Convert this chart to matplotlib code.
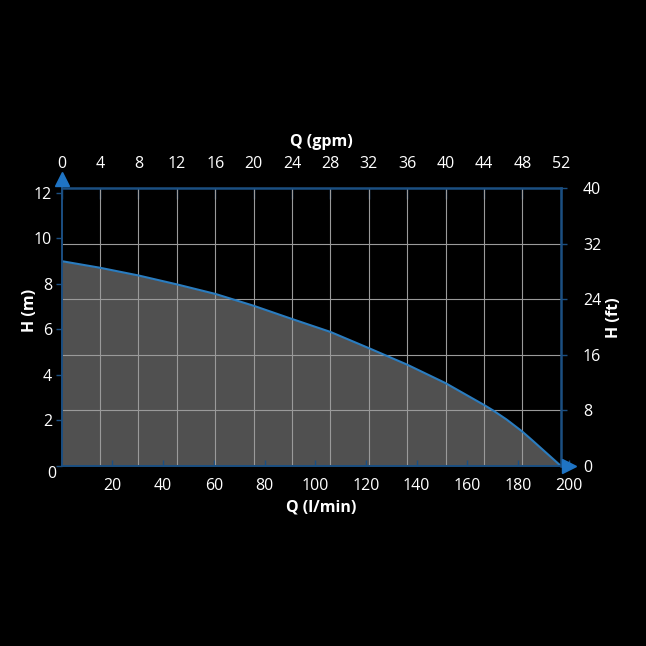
import matplotlib
matplotlib.use("Agg")
import matplotlib.pyplot as plt

plt.rcParams['font.family'] = ['Open Sans', 'DejaVu Sans']

# Data
flow_lpm = [0, 15.1, 30.3, 45.4, 60.6, 75.7, 90.8, 106.0, 121.1, 136.3,
            151.4, 166.6, 170.3, 175.5, 181.7, 186.0, 189.9, 192.6, 196.8]
head_m = [8.99, 8.70, 8.36, 7.97, 7.55, 7.03, 6.45, 5.88, 5.17, 4.44,
          3.63, 2.67, 2.42, 2.03, 1.50, 1.08, 0.69, 0.42, 0.0]

lpm_ticks = [20, 40, 60, 80, 100, 120, 140, 160, 180, 200]
gpm_ticks = [0, 4, 8, 12, 16, 20, 24, 28, 32, 36, 40, 44, 48, 52]
m_ticks = [0, 2, 4, 6, 8, 10, 12]
ft_ticks = [0, 8, 16, 24, 32, 40]

GPM = 3.78541
FT = 0.3048
xmax_frame = 52 * GPM
ymax_frame = 40 * FT

BLUE = '#1b4f82'
ARROW = '#1f74c4'
CURVE = '#2a7cbf'
GRID = '#9a9a9a'
FILL = '#505050'

W = H = 646
fig = plt.figure(figsize=(6.46, 6.46), dpi=100, facecolor='black')
L, R, B, T = 61.7, 568.7, 465.7, 188.3
ax = fig.add_axes([L / W, 1 - B / H, (R - L) / W, (B - T) / H])
ax.set_facecolor('black')
ax.set_xlim(0, 200)
ax.set_ylim(0, ymax_frame)
for s in ax.spines.values():
    s.set_visible(False)

ax.fill_between(flow_lpm, head_m, 0, color=FILL, lw=0, zorder=1)

for g in gpm_ticks[1:-1]:
    ax.plot([g * GPM, g * GPM], [0, ymax_frame], color=GRID, lw=0.8, zorder=2)
for f in ft_ticks[1:-1]:
    ax.plot([0, xmax_frame], [f * FT, f * FT], color=GRID, lw=0.8, zorder=2)

ax.plot(flow_lpm, head_m, color=CURVE, lw=1.5, zorder=4, solid_capstyle='round')

ax.plot([0, xmax_frame], [ymax_frame, ymax_frame], color=BLUE, lw=1.8, zorder=5, clip_on=False)
ax.plot([xmax_frame, xmax_frame], [0, ymax_frame], color=BLUE, lw=1.8, zorder=5, clip_on=False)
ax.plot([0, 200], [0, 0], color=BLUE, lw=1.4, zorder=5, clip_on=False)
ytop = 12.62
ax.plot([0, 0], [0, ytop], color=BLUE, lw=1.4, zorder=5, clip_on=False)
ax.plot([0], [ytop], marker='^', ms=10, color=ARROW, mec=ARROW, zorder=6, clip_on=False)
ax.plot([200], [0], marker='>', ms=10, color=ARROW, mec=ARROW, zorder=6, clip_on=False)

FS = 11.5
ax.set_xticks(lpm_ticks)
ax.set_xticklabels([str(v) for v in lpm_ticks])
ax.tick_params(axis='x', direction='in', length=4, width=1, color=BLUE,
               labelcolor='white', labelsize=FS, pad=9)
ax.set_yticks(m_ticks)
ax.set_yticklabels([''] + [str(v) for v in m_ticks[1:]])
ax.tick_params(axis='y', direction='out', length=4, width=1, color=BLUE,
               labelcolor='white', labelsize=FS, pad=3)

sx = ax.secondary_xaxis('top', functions=(lambda q: q / GPM, lambda g: g * GPM))
sx.set_xticks(gpm_ticks)
sx.set_xticklabels([str(v) for v in gpm_ticks])
sx.tick_params(axis='x', direction='in', length=8, width=1, color=BLUE,
               labelcolor='white', labelsize=FS, pad=12)
for s in sx.spines.values():
    s.set_visible(False)

sy = ax.secondary_yaxis(xmax_frame / 200, functions=(lambda m: m / FT, lambda f: f * FT))
sy.set_yticks(ft_ticks)
sy.set_yticklabels([str(v) for v in ft_ticks])
sy.tick_params(axis='y', direction='out', length=4, width=1, color=BLUE,
               labelcolor='white', labelsize=FS, pad=12)
for s in sy.spines.values():
    s.set_visible(False)

def px(x, y):
    return x / W, 1 - y / H

fig.text(*px(52.3, 474), '0', color='white', fontsize=FS, ha='center', va='center')
fig.text(*px(321, 142), 'Q (gpm)', color='white', fontsize=11.5, fontweight='bold',
         ha='center', va='center')
fig.text(*px(321, 507), 'Q (l/min)', color='white', fontsize=11.5, fontweight='bold',
         ha='center', va='center')
fig.text(*px(30, 310), 'H (m)', color='white', fontsize=11.5, fontweight='bold',
         ha='center', va='center', rotation=90)
fig.text(*px(614, 318), 'H (ft)', color='white', fontsize=11.5, fontweight='bold',
         ha='center', va='center', rotation=90)

fig.savefig('out.png', dpi=100, facecolor='black')
